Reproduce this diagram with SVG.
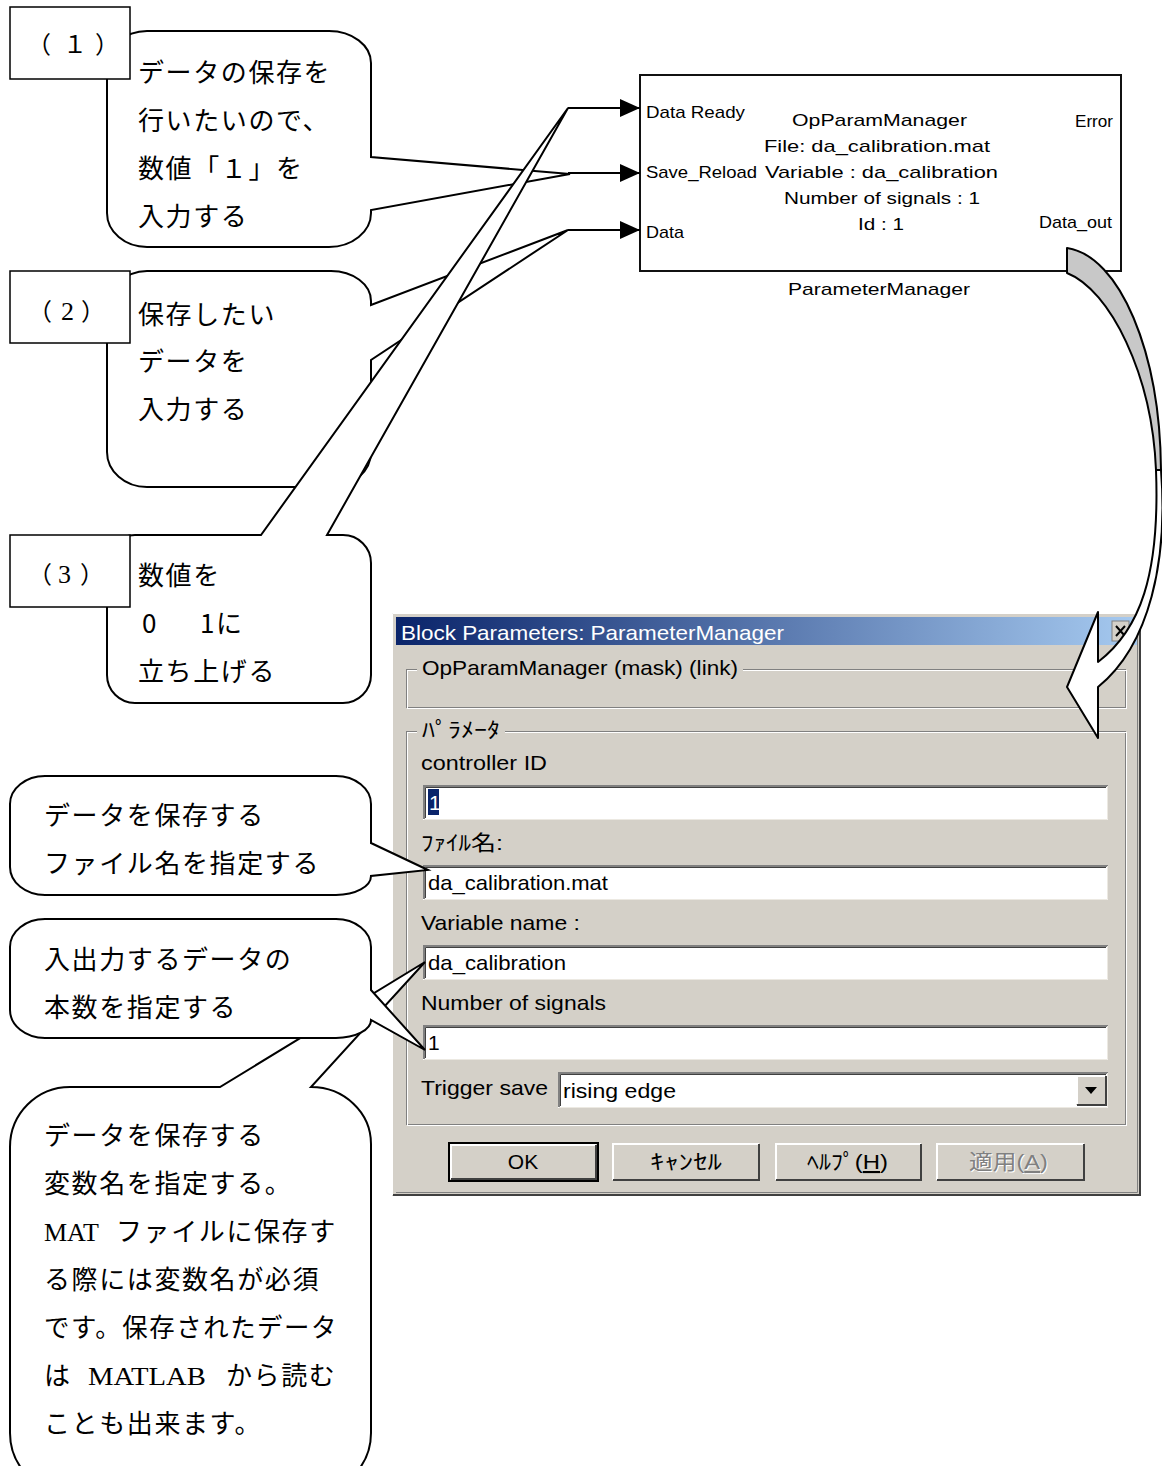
<svg xmlns="http://www.w3.org/2000/svg" width="1162" height="1466" viewBox="0 0 1162 1466">
<defs>
<linearGradient id="tg" x1="0" y1="0" x2="1" y2="0">
<stop offset="0" stop-color="#0a246a"/><stop offset="1" stop-color="#a6caf0"/>
</linearGradient>
<marker id="ah" markerUnits="userSpaceOnUse" markerWidth="20" markerHeight="20" viewBox="0 0 20 20" refX="20" refY="10" orient="auto">
<path d="M0,1 L20,10 L0,19 Z" fill="#000"/>
</marker>
<style>
.bub{fill:#fff;stroke:#000;stroke-width:2;stroke-linejoin:miter}
.box{fill:#fff;stroke:#000;stroke-width:1.5}
.jp{font-family:"Noto Sans CJK JP",sans-serif;font-size:26px;letter-spacing:1.6px;fill:#000}
.lbl{font-family:"Noto Sans CJK JP",sans-serif;font-size:24px;fill:#000}
.ser{font-family:"Liberation Serif","Noto Sans CJK JP",serif;letter-spacing:0}
.blk{font-family:"Liberation Sans","DejaVu Sans",sans-serif;font-size:17px;fill:#000}
.dl{font-family:"Liberation Sans","Noto Sans CJK JP",sans-serif;font-size:21px;fill:#000}
.e1{fill:none;stroke:#808080;stroke-width:1}
.e2{fill:none;stroke:#fff;stroke-width:1}
.fd{fill:none;stroke:#808080;stroke-width:2}
.fk{fill:none;stroke:#404040;stroke-width:1}
.fl{fill:none;stroke:#ece9e2;stroke-width:1}
.btn{fill:#d4d0c8}
.bh{fill:none;stroke:#fff;stroke-width:2}
.bs{fill:none;stroke:#404040;stroke-width:2}
.sig{stroke:#000;stroke-width:2;fill:none;marker-end:url(#ah)}
.arw{stroke:#000;stroke-width:2;stroke-linejoin:round}
</style>
</defs>
<rect width="1162" height="1466" fill="#fff"/>

<g id="block">
<rect x="640" y="75" width="481" height="196" fill="#fff" stroke="#111" stroke-width="2"/>
<text class="blk" x="646" y="118" textLength="99" lengthAdjust="spacingAndGlyphs">Data Ready</text>
<text class="blk" x="792" y="126" textLength="175" lengthAdjust="spacingAndGlyphs">OpParamManager</text>
<text class="blk" x="764" y="152" textLength="226" lengthAdjust="spacingAndGlyphs">File: da_calibration.mat</text>
<text class="blk" x="646" y="178" textLength="111" lengthAdjust="spacingAndGlyphs">Save_Reload</text>
<text class="blk" x="765" y="178" textLength="233" lengthAdjust="spacingAndGlyphs">Variable : da_calibration</text>
<text class="blk" x="784" y="204" textLength="196" lengthAdjust="spacingAndGlyphs">Number of signals : 1</text>
<text class="blk" x="858" y="230" textLength="46" lengthAdjust="spacingAndGlyphs">Id : 1</text>
<text class="blk" x="1075" y="127" textLength="38" lengthAdjust="spacingAndGlyphs">Error</text>
<text class="blk" x="1039" y="228" textLength="73" lengthAdjust="spacingAndGlyphs">Data_out</text>
<text class="blk" x="646" y="238" textLength="38" lengthAdjust="spacingAndGlyphs">Data</text>
<text class="blk" x="788" y="295" textLength="182" lengthAdjust="spacingAndGlyphs">ParameterManager</text>
</g>

<g id="callout1">
<path class="bub" d="M147,31 H329 A42,32 0 0 1 371,63 V157 L570,174 L371,210 V213 A42,34 0 0 1 329,247 H147 A40,34 0 0 1 107,213 V67 A40,36 0 0 1 147,31 Z"/>
<rect class="box" x="10" y="7" width="120" height="72"/>
<text class="lbl" x="27 63 95" y="53">（１）</text>
<text class="jp" x="138" y="82">データの保存を</text>
<text class="jp" x="138" y="130">行いたいので、</text>
<text class="jp" x="138" y="178">数値「１」を</text>
<text class="jp" x="138" y="226">入力する</text>
</g>

<g id="callout2">
<path class="bub" d="M147,271 H331 A40,30 0 0 1 371,301 V305 L568,230 L371,360 V452 A40,35 0 0 1 331,487 H147 A40,35 0 0 1 107,452 V311 A40,40 0 0 1 147,271 Z"/>
<rect class="box" x="10" y="271" width="120" height="72"/>
<text class="lbl" y="320"><tspan x="28">（</tspan><tspan class="ser" x="61" font-size="26">2</tspan><tspan x="81">）</tspan></text>
<text class="jp" x="138" y="324">保存したい</text>
<text class="jp" x="138" y="371">データを</text>
<text class="jp" x="138" y="419">入力する</text>
</g>

<g id="callout3">
<path class="bub" d="M135,535 H261 L568,108 L327,535 H343 A28,28 0 0 1 371,563 V675 A28,28 0 0 1 343,703 H135 A28,28 0 0 1 107,675 V563 A28,28 0 0 1 135,535 Z"/>
<rect class="box" x="10" y="535" width="120" height="72"/>
<text class="lbl" y="583"><tspan x="28">（</tspan><tspan class="ser" x="58" font-size="26">3</tspan><tspan x="80">）</tspan></text>
<text class="jp" x="138" y="585">数値を</text>
<text class="jp" y="633"><tspan x="142">0</tspan><tspan x="200">1に</tspan></text>
<text class="jp" x="138" y="681">立ち上げる</text>
</g>

<g id="dialog">
<rect x="392" y="613" width="749" height="583" fill="#d4d0c8"/>
<path d="M392.5,1195 V613.5 H1140" stroke="#fff" fill="none"/>
<path d="M393,1195 H1140 V613" stroke="#404040" stroke-width="2" fill="none"/>
<path d="M396,1192.5 H1137.5 V617" stroke="#808080" fill="none"/>
<rect x="396" y="617" width="741" height="28" fill="url(#tg)"/>
<text class="dl" x="401" y="640" textLength="383" lengthAdjust="spacingAndGlyphs" style="fill:#fff">Block Parameters: ParameterManager</text>
<rect x="1112" y="621" width="17" height="20" fill="#d4d0c8" stroke="#808080"/>
<path d="M1116,626 L1125,636 M1125,626 L1116,636" stroke="#000" stroke-width="2"/>
<rect class="e1" x="406.5" y="669.5" width="719" height="38"/>
<rect class="e2" x="407.5" y="670.5" width="719" height="38"/>
<rect x="417" y="660" width="326" height="20" fill="#d4d0c8"/>
<text class="dl" x="422" y="675" textLength="316" lengthAdjust="spacingAndGlyphs">OpParamManager (mask) (link)</text>
<rect class="e1" x="406.5" y="731.5" width="719" height="393"/>
<rect class="e2" x="407.5" y="732.5" width="719" height="393"/>
<rect x="417" y="720" width="88" height="20" fill="#d4d0c8"/>
<text class="dl" x="422" y="737" textLength="78" lengthAdjust="spacingAndGlyphs">ﾊﾟﾗﾒｰﾀ</text>
<text class="dl" x="421" y="770" textLength="126" lengthAdjust="spacingAndGlyphs">controller ID</text>
<rect x="423" y="785" width="685" height="35" fill="#fff"/>
<path class="fd" d="M424,819 V786 H1108"/><path class="fk" d="M425.5,818 V787.5 H1106"/><path class="fl" d="M424,819.5 H1107.5 V786"/>
<rect x="428" y="789" width="11" height="26" fill="#0a246a"/>
<text class="dl" x="429" y="810" style="fill:#fff">1</text>
<text class="dl" x="421" y="850" textLength="82" lengthAdjust="spacingAndGlyphs">ﾌｧｲﾙ名:</text>
<rect x="423" y="865" width="685" height="35" fill="#fff"/>
<path class="fd" d="M424,899 V866 H1108"/><path class="fk" d="M425.5,898 V867.5 H1106"/><path class="fl" d="M424,899.5 H1107.5 V866"/>
<text class="dl" x="428" y="890" textLength="180" lengthAdjust="spacingAndGlyphs">da_calibration.mat</text>
<text class="dl" x="421" y="930" textLength="159" lengthAdjust="spacingAndGlyphs">Variable name :</text>
<rect x="423" y="945" width="685" height="35" fill="#fff"/>
<path class="fd" d="M424,979 V946 H1108"/><path class="fk" d="M425.5,978 V947.5 H1106"/><path class="fl" d="M424,979.5 H1107.5 V946"/>
<text class="dl" x="428" y="970" textLength="138" lengthAdjust="spacingAndGlyphs">da_calibration</text>
<text class="dl" x="421" y="1010" textLength="185" lengthAdjust="spacingAndGlyphs">Number of signals</text>
<rect x="423" y="1025" width="685" height="35" fill="#fff"/>
<path class="fd" d="M424,1059 V1026 H1108"/><path class="fk" d="M425.5,1058 V1027.5 H1106"/><path class="fl" d="M424,1059.5 H1107.5 V1026"/>
<text class="dl" x="428" y="1050">1</text>
<text class="dl" x="421" y="1095" textLength="127" lengthAdjust="spacingAndGlyphs">Trigger save</text>
<rect x="558" y="1072" width="550" height="36" fill="#fff"/>
<path class="fd" d="M559,1107 V1073 H1108"/><path class="fk" d="M560.5,1106 V1074.5 H1106"/><path class="fl" d="M559,1107.5 H1107.5 V1073"/>
<text class="dl" x="563" y="1098" textLength="113" lengthAdjust="spacingAndGlyphs">rising edge</text>
<rect class="btn" x="1076" y="1075" width="30" height="30"/>
<path class="bh" d="M1077,1104 V1076 H1105"/><path class="bs" d="M1077,1105 H1106 V1076"/>
<polygon points="1085,1087 1097,1087 1091,1094" fill="#000"/>
<rect class="btn" x="449" y="1143" width="149" height="38" stroke="#000" stroke-width="2"/>
<path class="bh" d="M451,1179 V1145 H596"/><path class="bs" d="M451,1179 H596 V1145"/>
<text class="dl" x="523" y="1169" text-anchor="middle">OK</text>
<rect class="btn" x="612" y="1143" width="148" height="38"/>
<path class="bh" d="M613,1180 V1144 H759"/><path class="bs" d="M613,1180 H759 V1144"/>
<text class="dl" x="650" y="1169" textLength="72" lengthAdjust="spacingAndGlyphs">ｷｬﾝｾﾙ</text>
<rect class="btn" x="775" y="1143" width="147" height="38"/>
<path class="bh" d="M776,1180 V1144 H921"/><path class="bs" d="M776,1180 H921 V1144"/>
<text class="dl" x="807" y="1169" textLength="81" lengthAdjust="spacingAndGlyphs">ﾍﾙﾌﾟ(<tspan style="text-decoration:underline">H</tspan>)</text>
<rect class="btn" x="936" y="1143" width="149" height="38"/>
<path class="bh" d="M937,1180 V1144 H1084"/><path class="bs" d="M937,1180 H1084 V1144"/>
<text class="dl" x="970" y="1170" textLength="79" lengthAdjust="spacingAndGlyphs" style="fill:#fff">適用(<tspan style="text-decoration:underline">A</tspan>)</text>
<text class="dl" x="969" y="1169" textLength="79" lengthAdjust="spacingAndGlyphs" style="fill:#808080">適用(<tspan style="text-decoration:underline">A</tspan>)</text>
</g>

<g id="callout6">
<path class="bub" d="M70,1087 H220 L425,962 L311,1087 A60,57 0 0 1 371,1144 V1433 A60,60 0 0 1 311,1493 H70 A60,60 0 0 1 10,1433 V1147 A60,60 0 0 1 70,1087 Z"/>
<text class="jp" x="44" y="1145">データを保存する</text>
<text class="jp" x="44" y="1193">変数名を指定する。</text>
<text class="jp" y="1241"><tspan class="ser" x="44">MAT</tspan><tspan x="116">ファイルに保存す</tspan></text>
<text class="jp" x="44" y="1289">る際には変数名が必須</text>
<text class="jp" x="44" y="1337" textLength="294" lengthAdjust="spacingAndGlyphs">です。保存されたデータ</text>
<text class="jp" y="1385"><tspan x="44">は</tspan><tspan class="ser" x="88" textLength="118" lengthAdjust="spacingAndGlyphs">MATLAB</tspan><tspan x="226">から読む</tspan></text>
<text class="jp" x="44" y="1433">ことも出来ます。</text>
</g>

<g id="callout4">
<path class="bub" d="M45,776 H336 A35,28 0 0 1 371,804 V843 L428,870 L371,876 A35,19 0 0 1 336,895 H45 A35,28 0 0 1 10,867 V804 A35,28 0 0 1 45,776 Z"/>
<text class="jp" x="44" y="825">データを保存する</text>
<text class="jp" x="44" y="873">ファイル名を指定する</text>
</g>

<g id="callout5">
<path class="bub" d="M45,919 H336 A35,28 0 0 1 371,947 V990 L425,1050 L371,1020 A35,18 0 0 1 336,1038 H45 A35,28 0 0 1 10,1010 V947 A35,28 0 0 1 45,919 Z"/>
<text class="jp" x="44" y="969">入出力するデータの</text>
<text class="jp" x="44" y="1017">本数を指定する</text>
</g>

<g id="connectors">
<line class="sig" x1="568" y1="108" x2="640" y2="108"/>
<line class="sig" x1="568" y1="173" x2="640" y2="173"/>
<line class="sig" x1="568" y1="230" x2="640" y2="230"/>
<path class="arw" fill="#c8c8c8" d="M1067,248 C1120,256 1160,352 1161,470 L1156,470 C1152,374 1110,290 1067,273 Z"/>
<path class="arw" fill="#fff" d="M1156,470 C1160,575 1140,630 1098,662 L1098,612 L1067,687 L1098,738 L1098,687 C1150,645 1168,560 1161,470 Z"/>
</g>
</svg>
